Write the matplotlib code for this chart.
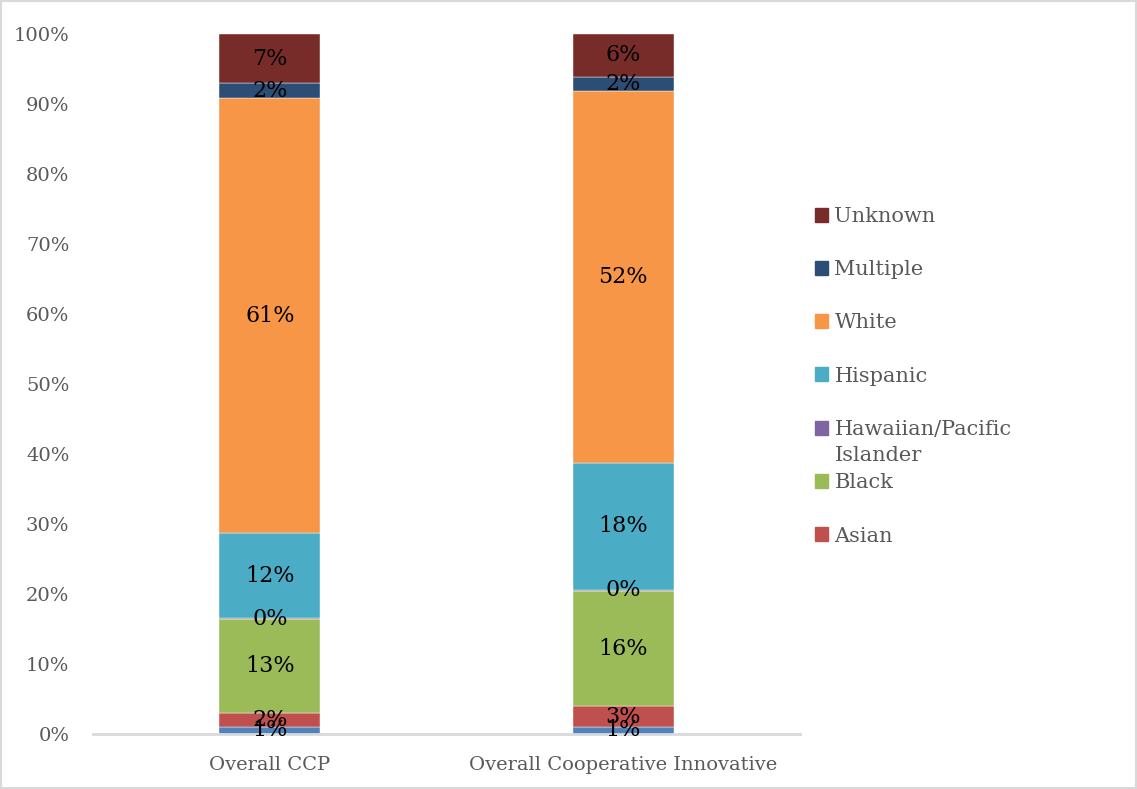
import numpy as np
import matplotlib
matplotlib.use("Agg")
import matplotlib.pyplot as plt
from matplotlib.patches import Patch, Rectangle
from matplotlib.ticker import PercentFormatter

plt.rcParams['font.family'] = ['DejaVu Serif']

groups = ["Overall CCP", "Overall Cooperative Innovative"]
series = ["American Indian/Alaska Native", "Asian", "Black", "Hawaiian/Pacific Islander",
          "Hispanic", "White", "Multiple", "Unknown"]
# raw shares (%); chart is a 100% stacked column, so heights get normalised
ccp = [1.0, 2.0, 13.1, 0.2, 11.9, 61.1, 2.1, 6.9]
coop = [1.0, 2.9, 16.1, 0.2, 17.8, 52.0, 2.0, 6.0]
colors = ["#4F81BD", "#C0504D", "#9BBB59", "#8064A2",
          "#4BACC6", "#F79646", "#2C4D75", "#772C2A"]

raw = np.array([ccp, coop]).T
heights = raw / raw.sum(axis=0) * 100

fig = plt.figure(figsize=(11.37, 7.89), dpi=100)
ax = fig.add_axes([0.0818, 0.0697, 0.6218, 0.8872])

x = np.arange(len(groups))
bottom = np.zeros(len(groups))
for i, name in enumerate(series):
    ax.bar(x, heights[i], 0.287, bottom=bottom, color=colors[i], label=name,
           edgecolor='white', linewidth=0.3)
    for j in range(len(groups)):
        ax.text(x[j], bottom[j] + heights[i][j] / 2, f"{raw[i][j]:.0f}%",
                ha='center', va='center', fontsize=16, color='black')
    bottom += heights[i]

ax.set_xlim(-0.5, 1.5)
ax.set_ylim(0, 100)
ax.set_yticks(np.arange(0, 101, 10))
ax.yaxis.set_major_formatter(PercentFormatter(decimals=0))
ax.set_xticks(x)
ax.set_xticklabels(groups)
ax.tick_params(axis='both', length=0, labelsize=14, colors='#595959')
ax.tick_params(axis='y', pad=17)
ax.tick_params(axis='x', pad=16)
for s in ['top', 'right', 'left']:
    ax.spines[s].set_visible(False)
ax.spines['bottom'].set_color('#d9d9d9')
ax.spines['bottom'].set_linewidth(2)

# legend: reversed, bottom series is cut off in the original
handles = [Patch(color=colors[i]) for i in range(len(series) - 1, 0, -1)]
labels = [series[i] if series[i] != "Hawaiian/Pacific Islander" else "Hawaiian/Pacific"
          for i in range(len(series) - 1, 0, -1)]
leg = fig.legend(handles, labels, loc='upper left', bbox_to_anchor=(0.700, 0.7615),
                 frameon=False, fontsize=15, labelspacing=1.645, handlelength=0.65,
                 handleheight=0.65, handletextpad=0.3, labelcolor='#595959')

# second line of the wrapped legend label, squeezed under it like the original
fig.canvas.draw()
for t in leg.get_texts():
    if t.get_text() == "Hawaiian/Pacific":
        bb = t.get_window_extent().transformed(fig.transFigure.inverted())
        fig.text(bb.x0, bb.y0 - 0.009, "Islander", va='top', ha='left',
                 fontsize=15, color='#595959')

fig.patches.append(Rectangle((0.001, 0.001), 0.998, 0.998, transform=fig.transFigure,
                             fill=False, edgecolor='#d9d9d9', linewidth=1.5))

fig.savefig("out.png", dpi=100)
